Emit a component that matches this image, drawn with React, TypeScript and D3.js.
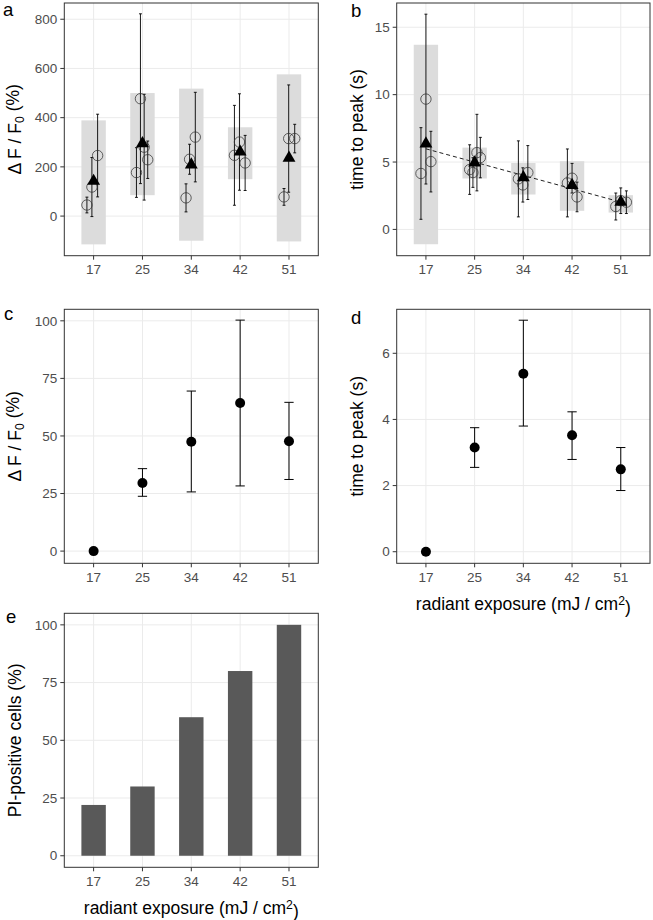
import React from "react";
import * as d3 from "d3";

const FONT = "'Liberation Sans', Arial, Helvetica, sans-serif";

// ---------- data ----------
const categories = ["17", "25", "34", "42", "51"];

// panel a: ΔF/F0 per cell (mean ± sd) with jitter (category units)
const dffCellValue = [[45, 118, 246], [177, 477, 280, 229], [74, 231, 321], [247, 301, 216], [78, 315, 315]];
const dffCellSd = [[32, 120, 168], [101, 345, 215, 76], [57, 61, 182], [203, 196, 112], [34, 218, 58]];
const dffCellJitter = [[-0.137, -0.035, 0.082], [-0.123, -0.041, 0.035, 0.108], [-0.108, -0.035, 0.082], [-0.117, -0.014, 0.102], [-0.102, -0.006, 0.117]];
const dffMean = [142, 295, 209, 261, 236];
const dffBandLow = [-115, 85, -100, 150, -103];
const dffBandHigh = [389, 500, 518, 361, 576];
const dffTicks = [0, 200, 400, 600, 800];

// panel b: time to peak per cell
const ttpCellValue = [[4.15, 9.67, 5.03], [4.44, 4.22, 5.7, 5.33], [3.75, 3.3, 4.22], [3.45, 3.8, 2.41], [1.7, 2.13, 2.02]];
const ttpCellSd = [[3.4, 6.3, 2.25], [1.84, 1.1, 2.84, 1.5], [2.82, 1.27, 2.0], [2.52, 1.1, 1.1], [1.0, 0.95, 0.84]];
const ttpCellJitter = [[-0.102, 0, 0.102], [-0.102, -0.035, 0.047, 0.117], [-0.102, -0.01, 0.092], [-0.096, 0, 0.102], [-0.102, 0, 0.115]];
const ttpMean = [6.36, 4.95, 3.85, 3.28, 2.04];
const ttpBandLow = [-1.1, 3.78, 2.59, 1.38, 1.25];
const ttpBandHigh = [13.7, 6.07, 4.93, 5.06, 2.54];
const ttpTrend = [5.98, 2.03];
const ttpTicks = [0, 5, 10, 15];

// panel c
const popDff = [0, 29.6, 47.5, 64.3, 47.7];
const popDffLow = [null, 23.8, 25.7, 28.3, 31.1];
const popDffHigh = [null, 35.8, 69.5, 100.3, 64.6];
const popDffTicks = [0, 25, 50, 75, 100];

// panel d
const popTtp = [0, 3.15, 5.38, 3.52, 2.49];
const popTtpLow = [null, 2.55, 3.8, 2.79, 1.85];
const popTtpHigh = [null, 3.75, 7.0, 4.23, 3.15];
const popTtpTicks = [0, 2, 4, 6];

// panel e
const piPositive = [22, 30, 60, 80, 100];
const piTicks = [0, 25, 50, 75, 100];

// ---------- layout ----------
const W = 653;
const H = 920;
const boxA = { x0: 64.3, x1: 318.3, y0: 3, y1: 255.7 };
const boxB = { x0: 396.7, x1: 650, y0: 3, y1: 255.7 };
const boxC = { x0: 64.3, x1: 318.3, y0: 309.3, y1: 563.3 };
const boxD = { x0: 396.7, x1: 650, y0: 309.3, y1: 563.3 };
const boxE = { x0: 64.3, x1: 318.3, y0: 613.3, y1: 867.3 };

const TICK_FS = 13.5;
const TITLE_FS = 17.5;
const LABEL_FS = 18.5;

type Box = { x0: number; x1: number; y0: number; y1: number };

function xScaleFor(box: Box) {
  return d3.scalePoint<string>().domain(categories).range([box.x0, box.x1]).padding(0.6);
}

function Frame(props: {
  box: Box;
  y: d3.ScaleLinear<number, number>;
  yTicks: number[];
  children?: React.ReactNode;
  label: string;
  labelX: number;
  labelY: number;
  yTitle: React.ReactNode;
  yTitleX: number;
  xTitle?: boolean;
}) {
  const { box, y, yTicks } = props;
  const x = xScaleFor(box);
  const cy = (box.y0 + box.y1) / 2;
  const cx = (box.x0 + box.x1) / 2;
  return (
    <g>
      <rect x={box.x0} y={box.y0} width={box.x1 - box.x0} height={box.y1 - box.y0} fill="#fff" />
      {yTicks.map((t) => (
        <line key={"gy" + t} x1={box.x0} x2={box.x1} y1={y(t)} y2={y(t)} stroke="#EBEBEB" strokeWidth={1} />
      ))}
      {categories.map((c) => (
        <line key={"gx" + c} x1={x(c)} x2={x(c)} y1={box.y0} y2={box.y1} stroke="#EBEBEB" strokeWidth={1} />
      ))}
      {props.children}
      <rect x={box.x0} y={box.y0} width={box.x1 - box.x0} height={box.y1 - box.y0} fill="none" stroke="#333" strokeWidth={1} />
      {yTicks.map((t) => (
        <g key={"ty" + t}>
          <line x1={box.x0 - 4} x2={box.x0} y1={y(t)} y2={y(t)} stroke="#333" strokeWidth={1} />
          <text x={box.x0 - 7} y={y(t)} dy="0.35em" textAnchor="end" fontSize={TICK_FS} fill="#4D4D4D" fontFamily={FONT}>
            {t}
          </text>
        </g>
      ))}
      {categories.map((c) => (
        <g key={"tx" + c}>
          <line x1={x(c)} x2={x(c)} y1={box.y1} y2={box.y1 + 4} stroke="#333" strokeWidth={1} />
          <text x={x(c)} y={box.y1 + 18.5} textAnchor="middle" fontSize={TICK_FS} fill="#4D4D4D" fontFamily={FONT}>
            {c}
          </text>
        </g>
      ))}
      <text x={props.labelX} y={props.labelY} fontSize={LABEL_FS} fontFamily={FONT} fill="#000">
        {props.label}
      </text>
      <text
        transform={`translate(${props.yTitleX},${cy}) rotate(-90)`}
        textAnchor="middle"
        fontSize={TITLE_FS}
        fontFamily={FONT}
        fill="#000"
      >
        {props.yTitle}
      </text>
      {props.xTitle && (
        <text x={cx} y={box.y1 + 47} textAnchor="middle" fontSize={TITLE_FS} fontFamily={FONT} fill="#000">
          radiant exposure (mJ / cm
          <tspan dy="-0.45em" fontSize={TITLE_FS * 0.7}>2</tspan>
          <tspan dy="0.45em">)</tspan>
        </text>
      )}
    </g>
  );
}

const dffTitle = (
  <>
    {"\u0394 F / F"}
    <tspan dy="0.3em" fontSize={TITLE_FS * 0.7}>0</tspan>
    <tspan dy="-0.3em">{" (%)"}</tspan>
  </>
);

function CellPanel(props: {
  box: Box;
  domain: [number, number];
  ticks: number[];
  values: number[][];
  sds: number[][];
  jitter: number[][];
  means: number[];
  low: number[];
  high: number[];
  trend?: number[];
  label: string;
  labelX: number;
  labelY: number;
  yTitle: React.ReactNode;
  yTitleX: number;
}) {
  const { box } = props;
  const x = xScaleFor(box);
  const step = x.step();
  const y = d3.scaleLinear().domain(props.domain).range([box.y1, box.y0]);
  const tri = d3.symbol().type(d3.symbolTriangle).size(72)();
  const cap = step * 0.03;
  return (
    <Frame box={box} y={y} yTicks={props.ticks} label={props.label} labelX={props.labelX} labelY={props.labelY} yTitle={props.yTitle} yTitleX={props.yTitleX}>
      {categories.map((c, i) => (
        <rect
          key={"band" + c}
          x={(x(c) as number) - step * 0.25}
          width={step * 0.5}
          y={y(props.high[i])}
          height={y(props.low[i]) - y(props.high[i])}
          fill="#DCDCDC"
        />
      ))}
      {categories.map((c, i) =>
        props.values[i].map((v, j) => {
          const cxp = (x(c) as number) + props.jitter[i][j] * step;
          const lo = v - props.sds[i][j];
          const hi = v + props.sds[i][j];
          return (
            <g key={"cell" + c + j}>
              <line x1={cxp} x2={cxp} y1={y(lo)} y2={y(hi)} stroke="#000" strokeWidth={0.9} />
              <line x1={cxp - cap} x2={cxp + cap} y1={y(lo)} y2={y(lo)} stroke="#000" strokeWidth={0.9} />
              <line x1={cxp - cap} x2={cxp + cap} y1={y(hi)} y2={y(hi)} stroke="#000" strokeWidth={0.9} />
            </g>
          );
        })
      )}
      {categories.map((c, i) =>
        props.values[i].map((v, j) => (
          <circle
            key={"pt" + c + j}
            cx={(x(c) as number) + props.jitter[i][j] * step}
            cy={y(v)}
            r={5.2}
            fill="none"
            stroke="#333"
            strokeWidth={0.75}
          />
        ))
      )}
      {props.trend && (
        <line
          x1={x(categories[0])}
          x2={x(categories[categories.length - 1])}
          y1={y(props.trend[0])}
          y2={y(props.trend[1])}
          stroke="#222"
          strokeWidth={1}
          strokeDasharray="4,3"
        />
      )}
      {categories.map((c, i) => (
        <path key={"tri" + c} d={tri as string} transform={`translate(${x(c)},${y(props.means[i])})`} fill="#000" />
      ))}
    </Frame>
  );
}

function DotPanel(props: {
  box: Box;
  domain: [number, number];
  ticks: number[];
  values: number[];
  low: (number | null)[];
  high: (number | null)[];
  label: string;
  labelX: number;
  labelY: number;
  yTitle: React.ReactNode;
  yTitleX: number;
  xTitle?: boolean;
}) {
  const { box } = props;
  const x = xScaleFor(box);
  const step = x.step();
  const y = d3.scaleLinear().domain(props.domain).range([box.y1, box.y0]);
  const cap = step * 0.095;
  return (
    <Frame box={box} y={y} yTicks={props.ticks} label={props.label} labelX={props.labelX} labelY={props.labelY} yTitle={props.yTitle} yTitleX={props.yTitleX} xTitle={props.xTitle}>
      {categories.map((c, i) => {
        const lo = props.low[i];
        const hi = props.high[i];
        if (lo == null || hi == null) return null;
        const cx = x(c) as number;
        return (
          <g key={"eb" + c}>
            <line x1={cx} x2={cx} y1={y(lo)} y2={y(hi)} stroke="#000" strokeWidth={1} />
            <line x1={cx - cap} x2={cx + cap} y1={y(lo)} y2={y(lo)} stroke="#000" strokeWidth={1} />
            <line x1={cx - cap} x2={cx + cap} y1={y(hi)} y2={y(hi)} stroke="#000" strokeWidth={1} />
          </g>
        );
      })}
      {categories.map((c, i) => (
        <circle key={"dot" + c} cx={x(c)} cy={y(props.values[i])} r={5} fill="#000" />
      ))}
    </Frame>
  );
}

function BarPanel(props: { box: Box }) {
  const { box } = props;
  const x = xScaleFor(box);
  const step = x.step();
  const y = d3.scaleLinear().domain([-5, 105]).range([box.y1, box.y0]);
  return (
    <Frame
      box={box}
      y={y}
      yTicks={piTicks}
      label="e"
      labelX={6}
      labelY={623}
      yTitle="PI-positive cells (%)"
      yTitleX={21}
      xTitle
    >
      {categories.map((c, i) => (
        <rect
          key={"bar" + c}
          x={(x(c) as number) - step * 0.25}
          width={step * 0.5}
          y={y(piPositive[i])}
          height={y(0) - y(piPositive[i])}
          fill="#595959"
        />
      ))}
    </Frame>
  );
}

export default function App() {
  return (
    <div style={{ position: "absolute", left: 0, top: 0 }}>
      <svg width={W} height={H} viewBox={`0 0 ${W} ${H}`} style={{ display: "block", background: "#fff" }}>
        <rect x={0} y={0} width={W} height={H} fill="#fff" />
        <CellPanel
          box={boxA}
          domain={[-161, 866]}
          ticks={dffTicks}
          values={dffCellValue}
          sds={dffCellSd}
          jitter={dffCellJitter}
          means={dffMean}
          low={dffBandLow}
          high={dffBandHigh}
          label="a"
          labelX={3}
          labelY={16}
          yTitle={dffTitle}
          yTitleX={20.5}
        />
        <CellPanel
          box={boxB}
          domain={[-1.95, 16.8]}
          ticks={ttpTicks}
          values={ttpCellValue}
          sds={ttpCellSd}
          jitter={ttpCellJitter}
          means={ttpMean}
          low={ttpBandLow}
          high={ttpBandHigh}
          trend={ttpTrend}
          label="b"
          labelX={351}
          labelY={17}
          yTitle="time to peak (s)"
          yTitleX={363}
        />
        <DotPanel
          box={boxC}
          domain={[-5.3, 105]}
          ticks={popDffTicks}
          values={popDff}
          low={popDffLow}
          high={popDffHigh}
          label="c"
          labelX={4}
          labelY={320}
          yTitle={dffTitle}
          yTitleX={20.5}
        />
        <DotPanel
          box={boxD}
          domain={[-0.35, 7.33]}
          ticks={popTtpTicks}
          values={popTtp}
          low={popTtpLow}
          high={popTtpHigh}
          label="d"
          labelX={351}
          labelY={323.5}
          yTitle="time to peak (s)"
          yTitleX={363}
          xTitle
        />
        <BarPanel box={boxE} />
      </svg>
    </div>
  );
}
